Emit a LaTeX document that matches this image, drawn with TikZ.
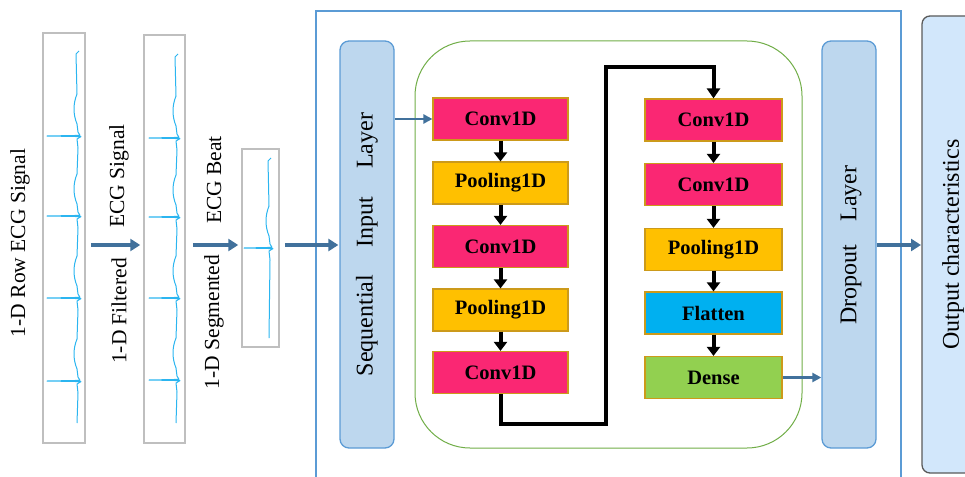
\documentclass[tikz,border=0pt]{standalone}
\usepackage{fontspec}
\setmainfont{Liberation Serif}
\usetikzlibrary{arrows.meta}
\definecolor{convc}{HTML}{FA2773}
\definecolor{poolc}{HTML}{FFC000}
\definecolor{flatc}{HTML}{00B0F0}
\definecolor{densec}{HTML}{92D050}
\definecolor{boxedge}{HTML}{CC9A1A}
\definecolor{layerfill}{HTML}{BDD7EE}
\definecolor{layeredge}{HTML}{5B9BD5}
\definecolor{outfill}{HTML}{D2E7FB}
\definecolor{outedge}{HTML}{5A5A5A}
\definecolor{greenedge}{HTML}{70AD47}
\definecolor{bigarrow}{HTML}{41719C}
\definecolor{ecgc}{HTML}{2BB5F0}
\definecolor{sigedge}{HTML}{BFBFBF}
\tikzset{
  blk/.style={draw=boxedge, line width=1.2pt, minimum height=42pt, inner sep=0pt, font=\fontsize{20.5}{22}\selectfont\bfseries},
  convbox/.style={blk, fill=convc, minimum width=135pt},
  poolbox/.style={blk, fill=poolc, minimum width=135pt},
  flatbox/.style={blk, fill=flatc, minimum width=137pt},
  densebox/.style={blk, fill=densec, minimum width=137pt},
  layerbox/.style={draw=layeredge, fill=layerfill, line width=1.3pt, rounded corners=9pt, minimum width=54pt, minimum height=407pt, inner sep=0pt},
  layertext/.style={rotate=90, font=\fontsize{24}{26}\selectfont},
  sigbox/.style={draw=sigedge, line width=1.5pt, inner sep=0pt},
  sigtext/.style={rotate=90, font=\fontsize{21.5}{23}\selectfont},
  bigarr/.style={draw=bigarrow, line width=4pt, -{Triangle[length=10pt,width=12pt]}},
  smallarr/.style={draw=bigarrow, line width=2.5pt, -{Triangle[length=9pt,width=9pt]}},
  blkarr/.style={draw=black, line width=4pt, -{Triangle[length=9pt,width=13pt]}},
  ecg/.style={draw=ecgc, line width=1pt, line join=round},
}
\newcommand\ecgtrace[5]{% xb, ytop, ybot, xl, spikes
  \draw[ecg] (#1+2,#2) -- (#1-1,#2+3) \foreach \s in {#5} {
    -- (#1,\s-42) .. controls (#1-4,\s-32) and (#1-4,\s-22) .. (#1,\s-12)
    -- (#1+1,\s-4) -- (#1+3,\s-0.6) -- (#4,\s) -- (#1+4,\s+0.6) -- (#1,\s+3) -- (#1+1,\s+12)}
    -- (#1,#3);
}
\begin{document}
\begin{tikzpicture}[x=1pt,y=-1pt]
\clip (0,0) rectangle (965,476);
\useasboundingbox (0,0) rectangle (965,476);

% outer blue frame
\draw[draw=layeredge, line width=1.5pt] (316,11) rectangle (901,490);

% ECG boxes
\node[sigbox, minimum width=42pt, minimum height=410pt] (sig1) at (64,238) {};
\node[sigbox, minimum width=41pt, minimum height=408pt] (sig2) at (164.5,239) {};
\node[sigbox, minimum width=37pt, minimum height=198pt] (beat) at (260.5,248) {};
\ecgtrace{77}{51}{423}{47}{136,216,298,381}
\ecgtrace{176}{54}{423}{149}{138,217,298,380}
\ecgtrace{269}{158}{338}{244}{248}

% labels
\node[sigtext] (l1) at (20,243) {1-D Row ECG Signal};
\node[sigtext] (l2a) at (119,176) {ECG Signal};
\node[sigtext] (l2b) at (119,311) {1-D Filtered};
\node[sigtext] (l3a) at (214,180) {ECG Beat};
\node[sigtext] (l3b) at (214,322) {1-D Segmented};

% layers
\node[layerbox] (seq) at (367,244.5) {};
\node[layertext] at (seq.center) {Sequential\hspace{1.15em}Input\hspace{1.15em}Layer};
\node[layerbox] (drop) at (849,244.5) {};
\node[layertext] at (851,245) {Dropout\hspace{0.95em}Layer};

% green container
\draw[draw=greenedge, line width=1pt, rounded corners=55pt] (415,41) rectangle (802,448);

% left column
\node[convbox] (c1) at (500.5,119) {Conv1D};
\node[poolbox] (p1) at (500.5,183) {Pooling1D};
\node[convbox] (c2) at (500.5,246.5) {Conv1D};
\node[poolbox] (p2) at (500.5,310) {Pooling1D};
\node[convbox] (c3) at (500.5,372.5) {Conv1D};
% right column
\node[convbox, minimum width=137pt] (c4) at (713.5,120) {Conv1D};
\node[convbox, minimum width=137pt] (c5) at (713.5,184.5) {Conv1D};
\node[poolbox, minimum width=137pt] (p3) at (713.5,249.5) {Pooling1D};
\node[flatbox] (fl) at (713.5,313) {Flatten};
\node[densebox] (de) at (713.5,377.5) {Dense};

% output box
\draw[draw=outedge, fill=outfill, line width=1.3pt, rounded corners=8pt] (922,16) rectangle (990,473);
\node[layertext] (out) at (953,244.5) {Output characteristics};
\coordinate (outl) at (921,245);

% black arrows
\draw[blkarr] (c1) -- (p1);
\draw[blkarr] (p1) -- (c2);
\draw[blkarr] (c2) -- (p2);
\draw[blkarr] (p2) -- (c3);
\draw[blkarr] (c4) -- (c5);
\draw[blkarr] (c5) -- (p3);
\draw[blkarr] (p3) -- (fl);
\draw[blkarr] (fl) -- (de);
\draw[draw=black, line width=4pt, line join=miter, -{Triangle[length=10pt,width=13pt]}]
  (c3.south) -- (500.5,424) -- (606,424) -- (606,67) -- (713.5,67) -- (c4.north);

% blue arrows
\draw[bigarr] (sig1.east |- 0,245) ++(5,0) -- ([xshift=-3pt]sig2.west |- 0,245);
\draw[bigarr] ([xshift=7pt]sig2.east |- 0,245) -- ([xshift=-3pt]beat.west |- 0,245);
\draw[bigarr] ([xshift=5pt]beat.east |- 0,245) -- ([xshift=-1pt]seq.west |- 0,245);
\draw[smallarr] (seq.east |- c1) -- (c1.west);
\draw[smallarr] (de.east) -- (drop.west |- de);
\draw[bigarr] (drop.east |- 0,245) -- (outl);
\end{tikzpicture}
\end{document}
